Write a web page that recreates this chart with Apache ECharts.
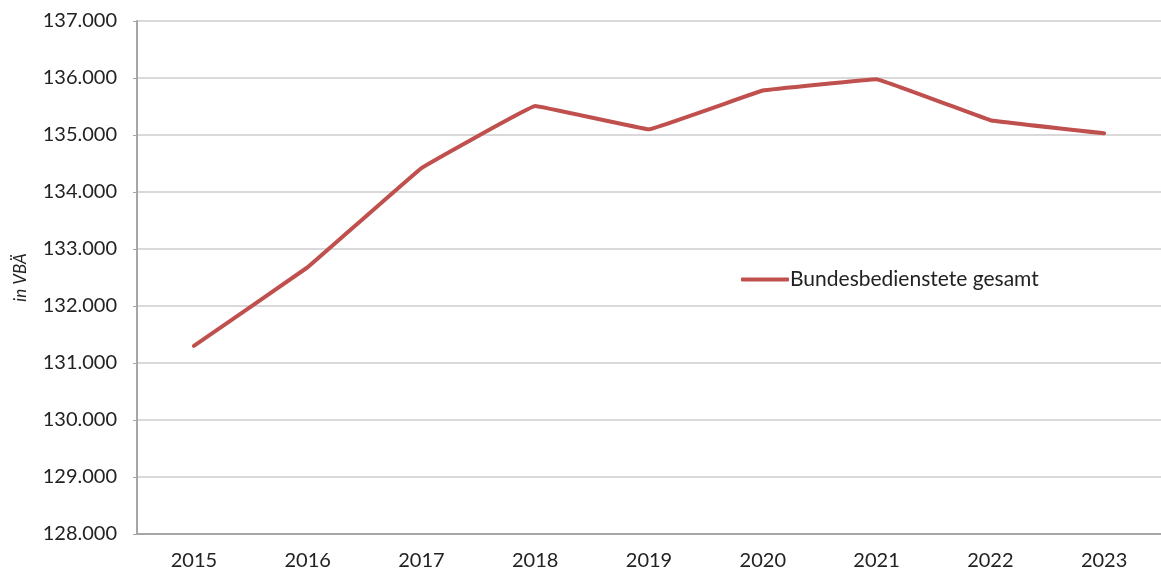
<!DOCTYPE html>
<html>
<head>
<meta charset="utf-8">
<script src="https://cdn.jsdelivr.net/npm/echarts@6/dist/echarts.min.js"></script>
<style>
  html, body { margin: 0; padding: 0; background: #fff; }
  #chart { width: 1161px; height: 571px; }
</style>
</head>
<body>
<div id="chart"></div>
<script>
  // Jahre und Werte (VBÄ)
  var years = ['2015', '2016', '2017', '2018', '2019', '2020', '2021', '2022', '2023'];
  var gesamt = [131300, 132680, 134420, 135510, 135100, 135780, 135980, 135260, 135030];
  var seriesName = 'Bundesbedienstete gesamt';

  var chart = echarts.init(document.getElementById('chart'));

  chart.setOption({
    animation: false,
    textStyle: { fontFamily: 'Lato' },
    grid: { left: 137, right: -5, top: 21, bottom: 35 },
    legend: {
      data: [seriesName],
      left: 736,
      top: 264,
      itemWidth: 48,
      itemHeight: 4,
      itemGap: 4,
      icon: 'roundRect',
      textStyle: { fontFamily: 'Lato', fontSize: 21, color: '#222', padding: [0, 0, 0, -4] }
    },
    xAxis: {
      type: 'category',
      data: years,
      boundaryGap: true,
      axisLine: { lineStyle: { color: '#a6a6a6', width: 2 } },
      axisTick: { inside: true, length: 6, lineStyle: { color: '#a6a6a6', width: 1.5 } },
      axisLabel: { fontSize: 20, color: '#222', margin: 17 }
    },
    yAxis: {
      type: 'value',
      min: 128000,
      max: 137000,
      interval: 1000,
      name: 'in VBÄ',
      nameLocation: 'middle',
      nameGap: 108,
      nameRotate: 90,
      nameTextStyle: { fontStyle: 'italic', fontSize: 17, color: '#222' },
      axisLine: { show: true, lineStyle: { color: '#a6a6a6', width: 2 } },
      axisTick: { show: true, length: 4, lineStyle: { color: '#a6a6a6' } },
      splitLine: { lineStyle: { color: '#d9d9d9', width: 2 } },
      axisLabel: {
        fontSize: 20,
        color: '#222',
        margin: 20,
        formatter: function (v) {
          return String(v).replace(/\B(?=(\d{3})+(?!\d))/g, '.');
        }
      }
    },
    series: [
      {
        name: seriesName,
        type: 'line',
        data: gesamt,
        smooth: 0.04,
        symbol: 'none',
        lineStyle: { color: '#c0504d', width: 4, cap: 'round', join: 'round' },
        itemStyle: { color: '#c0504d' }
      }
    ]
  });
</script>
</body>
</html>
